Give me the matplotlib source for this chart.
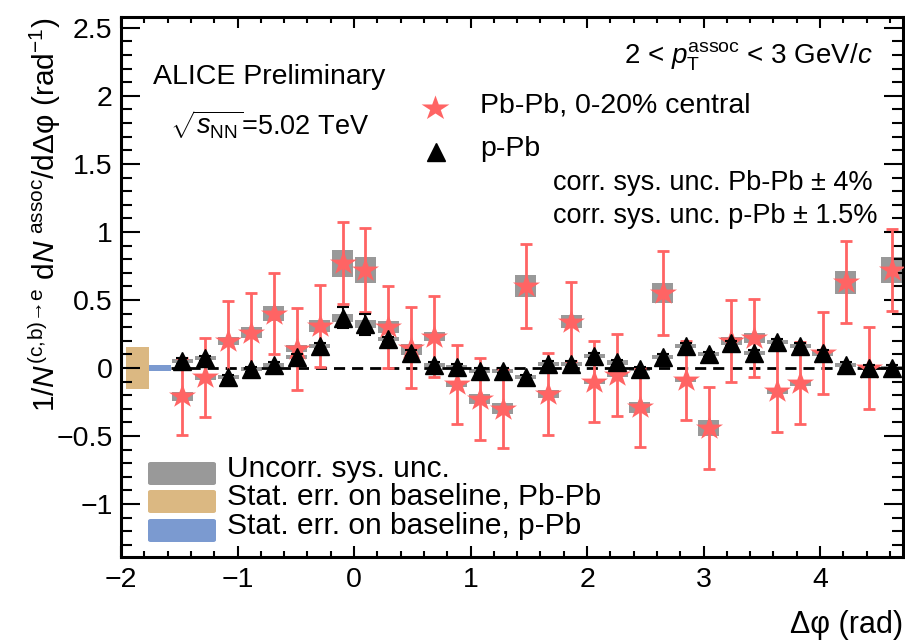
import numpy as np
import matplotlib.pyplot as plt
from matplotlib.patches import Rectangle, FancyBboxPatch
from matplotlib.ticker import MultipleLocator, FuncFormatter

plt.rcParams['font.family'] = ['Liberation Sans', 'DejaVu Sans']
plt.rcParams['mathtext.fontset'] = 'custom'
plt.rcParams['mathtext.rm'] = 'Liberation Sans'
plt.rcParams['mathtext.it'] = 'Liberation Sans:italic'
plt.rcParams['mathtext.bf'] = 'Liberation Sans:bold'

# 32 delta-phi bins between -pi/2 and 3pi/2
n_bins = 32
dphi = -np.pi / 2 + (np.arange(n_bins) + 0.5) * 2 * np.pi / n_bins

# Pb-Pb 0-20% (stars)
pbpb = [-0.21, -0.07, 0.20, 0.26, 0.40, 0.14, 0.31, 0.77, 0.72, 0.30, 0.15, 0.23,
        -0.12, -0.23, -0.30, 0.60, -0.19, 0.34, -0.10, -0.05, -0.29, 0.55, -0.09, -0.44,
        0.20, 0.22, -0.17, -0.11, 0.11, 0.63, 0.00, 0.72]
pbpb_stat = [0.28, 0.29, 0.29, 0.29, 0.30, 0.30, 0.30, 0.30, 0.31, 0.30, 0.30, 0.30,
             0.29, 0.30, 0.29, 0.31, 0.30, 0.29, 0.30, 0.30, 0.29, 0.31, 0.29, 0.30,
             0.30, 0.29, 0.30, 0.30, 0.30, 0.30, 0.30, 0.30]
pbpb_sys = [0.03, 0.02, 0.03, 0.04, 0.055, 0.025, 0.045, 0.10, 0.095, 0.045, 0.025, 0.035,
            0.02, 0.035, 0.04, 0.08, 0.03, 0.05, 0.02, 0.015, 0.04, 0.075, 0.015, 0.06,
            0.03, 0.035, 0.025, 0.02, 0.02, 0.085, 0.01, 0.095]

# p-Pb (triangles)
ppb = [0.05, 0.07, -0.07, -0.01, 0.02, 0.08, 0.16, 0.37, 0.32, 0.21, 0.11, 0.02,
       0.01, -0.02, -0.02, -0.07, 0.03, 0.03, 0.09, 0.04, -0.01, 0.08, 0.16, 0.10,
       0.18, 0.11, 0.19, 0.16, 0.11, 0.02, 0.00, 0.00]
ppb_stat = [0.02] * 7 + [0.075, 0.075] + [0.02] * 23
ppb_sys = [0.015] * 7 + [0.03, 0.03] + [0.015] * 23

# baseline stat. errors
base_pbpb = 0.155
base_ppb = 0.024

star_c = '#ff6464'
gray_c = '#999999'
tan_c = '#dbb882'
blue_c = '#7b9ad0'

# five-point star, a bit wider than tall like in the original
ang = np.pi / 2 + np.arange(10) * np.pi / 5
rad = np.where(np.arange(10) % 2 == 0, 1.0, 0.382)
star = np.column_stack([1.12 * rad * np.cos(ang), rad * np.sin(ang)])

W, H = 905, 642
def fx(px):
    return px / W
def fy(py):
    return 1 - py / H

fig = plt.figure(figsize=(W / 100, H / 100), dpi=100)
ax = fig.add_axes([fx(121), fy(557), (903 - 121) / W, (557 - 17) / H])

bw = 0.18
for x, y, s in zip(dphi, pbpb, pbpb_sys):
    ax.add_patch(Rectangle((x - bw / 2, y - s), bw, 2 * s, color=gray_c, lw=0, zorder=1))
for x, y, s in zip(dphi, ppb, ppb_sys):
    ax.add_patch(Rectangle((x - bw / 2, y - s), bw, 2 * s, color=gray_c, lw=0, zorder=1))

ax.add_patch(Rectangle((-1.96, -base_pbpb), 0.20, 2 * base_pbpb, color=tan_c, lw=0, zorder=1))
ax.add_patch(Rectangle((-1.76, -base_ppb), -np.pi / 2 + 1.76, 2 * base_ppb, color=blue_c, lw=0, zorder=1))

ax.plot([-np.pi / 2, 3 * np.pi / 2], [0, 0], color='k', ls='--', lw=2, dashes=(4, 2.5), zorder=2)

ax.errorbar(dphi, pbpb, yerr=pbpb_stat, fmt='none', ecolor=star_c,
            capsize=4, elinewidth=2, capthick=2, zorder=3)
ax.plot(dphi, pbpb, ls='none', marker=star, ms=19.5, color=star_c, mew=0, zorder=3)
ax.errorbar(dphi, ppb, yerr=ppb_stat, fmt='^', color='k', ms=13,
            capsize=4, elinewidth=1.5, capthick=1.5, zorder=4)

ax.set_xlim(-2.0, 3 * np.pi / 2)
ax.set_ylim(-1.39, 2.58)

fmt = FuncFormatter(lambda v, p: ('%g' % round(v, 3)).replace('-', '\u2212'))
ax.xaxis.set_major_locator(MultipleLocator(1))
ax.xaxis.set_minor_locator(MultipleLocator(0.2))
ax.yaxis.set_major_locator(MultipleLocator(0.5))
ax.yaxis.set_minor_locator(MultipleLocator(0.1))
ax.xaxis.set_major_formatter(fmt)
ax.yaxis.set_major_formatter(fmt)
ax.tick_params(which='both', direction='in', top=True, right=True, labelsize=20.5, width=1.5)
ax.tick_params(axis='y', which='major', length=14, pad=6)
ax.tick_params(axis='y', which='minor', length=8)
ax.tick_params(axis='x', which='major', length=8, pad=7)
ax.tick_params(axis='x', which='minor', length=4.5)
for sp in ax.spines.values():
    sp.set_linewidth(2.2)

# texts
fig.text(fx(153), fy(77), 'ALICE Preliminary', fontsize=20.5, va='center')
fig.text(fx(170), fy(125), r'$\sqrt{s_{\rm NN}}$=5.02 TeV', fontsize=19.5, va='center')
fig.text(fx(873), fy(57), r'2 < $p_{\rm T}^{\rm assoc}$ < 3 GeV/$c$', fontsize=20, ha='right', va='center')

ax.plot([fx(435)], [fy(108)], marker=star, ms=20, color=star_c, mew=0, ls='none',
        transform=fig.transFigure, clip_on=False)
ax.plot([fx(436)], [fy(152)], marker='^', ms=13, color='k', ls='none',
        transform=fig.transFigure, clip_on=False)
fig.text(fx(480), fy(105), 'Pb-Pb, 0-20% central', fontsize=20.5, va='center')
fig.text(fx(480), fy(149), 'p-Pb', fontsize=20.5, va='center')
fig.text(fx(873), fy(183), 'corr. sys. unc. Pb-Pb \u00b1 4%', fontsize=19.5, ha='right', va='center')
fig.text(fx(877), fy(216), 'corr. sys. unc. p-Pb \u00b1 1.5%', fontsize=19.5, ha='right', va='center')

# bottom-left legend
leg_items = [(gray_c, 'Uncorr. sys. unc.', 462),
             (tan_c, 'Stat. err. on baseline, Pb-Pb', 490),
             (blue_c, 'Stat. err. on baseline, p-Pb', 519)]
for c, lab, top in leg_items:
    fig.add_artist(FancyBboxPatch((fx(148), fy(top + 23)), (216 - 148) / W, 23 / H,
                                  boxstyle='round,pad=0,rounding_size=0.003',
                                  transform=fig.transFigure, color=c, lw=0))
    fig.text(fx(227), fy(top + 7), lab, fontsize=21.5, va='center')

fig.text(fx(45), fy(215), r'1/$N^{\mathrm{(c,\!b)→e}}$ d$N^{\rm \ assoc}$/dΔφ (rad$^{-1}$)',
         rotation=90, fontsize=21.5, ha='center', va='center')
fig.text(fx(903), fy(625), 'Δφ (rad)', fontsize=22, ha='right', va='center')

fig.savefig('out.png', dpi=100)
